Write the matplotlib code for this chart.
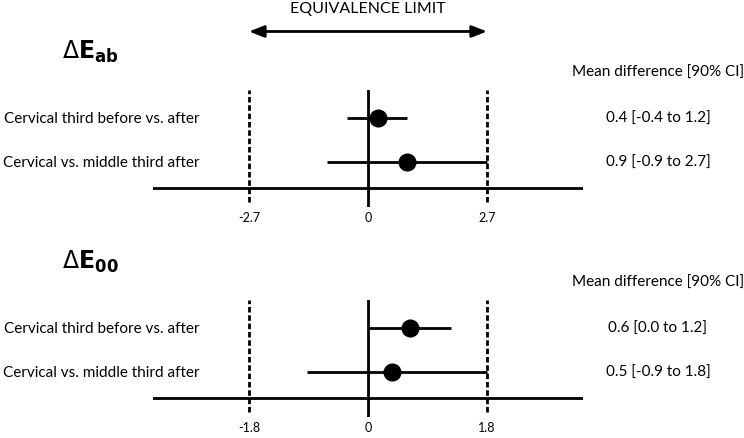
import matplotlib
matplotlib.use("Agg")
import matplotlib.pyplot as plt
import matplotlib.transforms as mtransforms

plt.rcParams['font.family'] = ['Lato', 'DejaVu Sans']
plt.rcParams['mathtext.fontset'] = 'dejavusans'

# comparisons (same for both panels)
rows = ["Cervical third before vs. after", "Cervical vs. middle third after"]
row_y = [2, 1]

# Delta E_ab panel (positions as drawn in the picture)
ab_limit = 2.7
ab_mean = [0.22, 0.88]
ab_low = [-0.47, -0.94]
ab_high = [0.89, 2.7]
ab_text = ["0.4 [-0.4 to 1.2]", "0.9 [-0.9 to 2.7]"]

# Delta E_00 panel
e00_limit = 1.8
e00_mean = [0.64, 0.36]
e00_low = [0.0, -0.92]
e00_high = [1.26, 1.8]
e00_text = ["0.6 [0.0 to 1.2]", "0.5 [-0.9 to 1.8]"]

fig = plt.figure(figsize=(7.44, 4.39), dpi=100)
ax1 = fig.add_axes([0.2056, 0.5262, 0.578, 0.2665])
ax2 = fig.add_axes([0.2056, 0.0478, 0.578, 0.2665])

ymin, ymax = -0.023, 2.636
base_y = 0.41
dash_bottom = 0.09


def panel(ax, title, limit, mean, low, high, texts):
    span = limit * 1.806
    ax.set_xlim(-span, span)
    ax.set_ylim(ymin, ymax)
    for s in ax.spines.values():
        s.set_visible(False)
    ax.set_yticks([])
    ax.set_xticks([-limit, 0, limit])
    ax.set_xticklabels([f"{-limit:.1f}", "0", f"{limit:.1f}"], fontsize=9)
    ax.tick_params(axis='x', length=0, pad=3)

    ax.axhline(base_y, color='black', lw=2, zorder=1)
    ax.axvline(0, color='black', lw=2, zorder=1)
    ax.vlines([-limit, limit], dash_bottom, ymax, colors='black', lw=2,
              linestyles=(0, (2, 1)), zorder=1)

    xerr = [[m - l for m, l in zip(mean, low)], [h - m for m, h in zip(mean, high)]]
    ax.errorbar(mean, row_y, xerr=xerr, fmt='o', color='black', ms=12,
                elinewidth=2, capsize=0, zorder=3)

    tr = mtransforms.blended_transform_factory(fig.transFigure, ax.transData)
    for lab, y, t in zip(rows, row_y, texts):
        ax.text(0.2688, y, lab, transform=tr, ha='right', va='center', fontsize=11)
        ax.text(0.8844, y, t, transform=tr, ha='center', va='center', fontsize=11)
    ax.text(0.8844, 3.045, "Mean difference [90% CI]", transform=tr,
            ha='center', va='center', fontsize=11)
    ax.text(0.084, 3.36, title, transform=tr, ha='left', va='baseline',
            fontsize=17)


panel(ax1, r'$\Delta\mathbf{E}_{\mathbf{ab}}$', ab_limit, ab_mean, ab_low, ab_high, ab_text)
panel(ax2, r'$\Delta\mathbf{E}_{\mathbf{00}}$', e00_limit, e00_mean, e00_low, e00_high, e00_text)

ax1.annotate('', xy=(ab_limit, 0.926), xytext=(-ab_limit, 0.926),
             xycoords=('data', 'figure fraction'), textcoords=('data', 'figure fraction'),
             arrowprops=dict(arrowstyle='<|-|>,head_length=0.9,head_width=0.35',
                             color='black', lw=2, shrinkA=0, shrinkB=0))
ax1.text(0, 0.979, "EQUIVALENCE LIMIT", transform=mtransforms.blended_transform_factory(
    ax1.transData, fig.transFigure), ha='center', va='center', fontsize=11.5)

fig.savefig("out.png", dpi=100)
